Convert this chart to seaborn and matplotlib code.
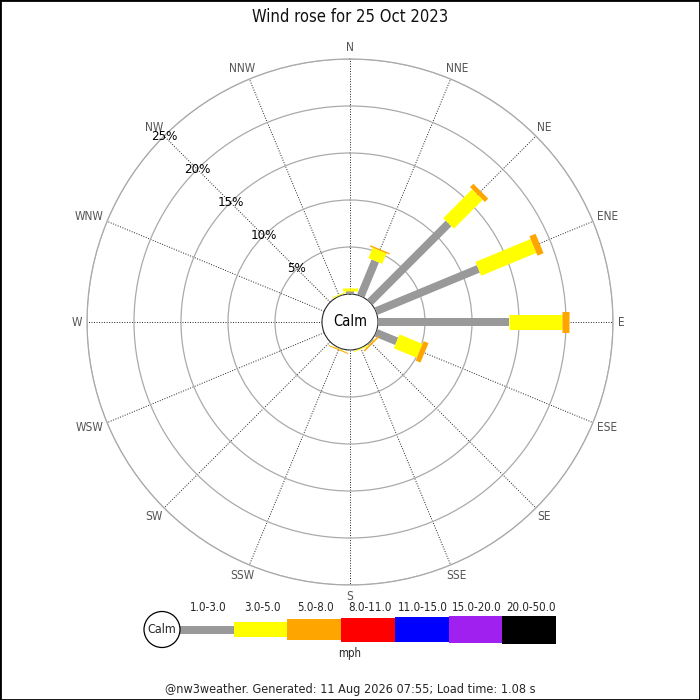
import numpy as np
import matplotlib.pyplot as plt
import seaborn as sns
from matplotlib.patches import Circle, Rectangle

# compass points, clockwise from north
directions = ['N', 'NNE', 'NE', 'ENE', 'E', 'ESE', 'SE', 'SSE',
              'S', 'SSW', 'SW', 'WSW', 'W', 'WNW', 'NW', 'NNW']
speed_bins = ['1.0-3.0', '3.0-5.0', '5.0-8.0', '8.0-11.0',
              '11.0-15.0', '15.0-20.0', '20.0-50.0']

pct_1_3 = [0.35, 4.05, 11.85, 11.8, 13.95, 2.4, 0.15, 0.05,
           0.1, 0.1, 0.0, 0.0, 0.0, 0.0, 0.0, 0.05]
pct_3_5 = [0.3, 1.2, 4.35, 6.35, 5.65, 2.65, 0.05, 0.1,
           0.0, 0.05, 0.0, 0.0, 0.0, 0.0, 0.0, 0.1]
pct_5_8 = [0.0, 0.15, 0.5, 0.7, 0.75, 0.55, 0.15, 0.0,
           0.0, 0.1, 0.0, 0.0, 0.0, 0.0, 0.0, 0.0]
pct_8_11 = [0.0, 0.0, 0.0, 0.0, 0.0, 0.0, 0.0, 0.0,
            0.0, 0.0, 0.0, 0.0, 0.0, 0.0, 0.0, 0.0]
pct_11_15 = [0.0, 0.0, 0.0, 0.0, 0.0, 0.0, 0.0, 0.0,
             0.0, 0.0, 0.0, 0.0, 0.0, 0.0, 0.0, 0.0]
pct_15_20 = [0.0, 0.0, 0.0, 0.0, 0.0, 0.0, 0.0, 0.0,
             0.0, 0.0, 0.0, 0.0, 0.0, 0.0, 0.0, 0.0]
pct_20_50 = [0.0, 0.0, 0.0, 0.0, 0.0, 0.0, 0.0, 0.0,
             0.0, 0.0, 0.0, 0.0, 0.0, 0.0, 0.0, 0.0]
ring_ticks = [5, 10, 15, 20, 25]

bands = [pct_1_3, pct_3_5, pct_5_8, pct_8_11, pct_11_15, pct_15_20, pct_20_50]
colours = ['#999999', '#ffff00', '#ffa500', '#ff0000', '#0000ff', '#a020f0', '#000000']
band_px = [8, 15, 21, 24, 25, 27, 28]   # bar thickness in pixels

sns.set_style('white')
plt.rcParams['font.family'] = ['DejaVu Sans']
plt.rcParams['font.stretch'] = 'condensed'

DPI = 100
px_per_pct = 9.4
r0_px = 28
R_px = r0_px + 25 * px_per_pct
cx, cy = 350, 322

fig = plt.figure(figsize=(7, 7), dpi=DPI)
ax = fig.add_axes([(cx - R_px) / 700, (700 - cy - R_px) / 700,
                   2 * R_px / 700, 2 * R_px / 700], projection='polar')
ax.set_theta_zero_location('N')
ax.set_theta_direction(-1)
ax.set_ylim(0, 25)
ax.set_rorigin(-r0_px / px_per_pct)

theta = np.deg2rad(np.arange(len(directions)) * 22.5)

ax.set_xticks(theta)
ax.set_xticklabels([])
ax.set_yticks(ring_ticks)
ax.set_yticklabels([])
ax.xaxis.grid(True, color='#222222', linestyle=(0, (1, 1.6)), linewidth=0.7)
ax.yaxis.grid(True, color='#aaaaaa', linestyle='-', linewidth=0.9)
ax.spines['polar'].set_color('#aaaaaa')
ax.spines['polar'].set_linewidth(0.9)
ax.tick_params(length=0)

# stacked bars, drawn as thick radial strokes of constant width
for i, th in enumerate(theta):
    start = 0.0
    for k, band in enumerate(bands):
        v = band[i]
        if v <= 0:
            continue
        ax.plot([th, th], [start, start + v], color=colours[k],
                lw=band_px[k] * 72 / DPI, solid_capstyle='butt', zorder=3)
        start += v

calm = Circle((0.5, 0.5), 26 / (2 * R_px), transform=ax.transAxes,
              facecolor='white', edgecolor='#bbbbbb', lw=0.9, zorder=2.5)
ax.add_patch(calm)
ax.text(0.5, 0.5, 'Calm', transform=ax.transAxes, ha='center', va='center',
        fontsize=10.5, color='black', zorder=5)

# compass labels: nearest edge of each label sits just outside the rim
lab_r = (268 - r0_px) / px_per_pct
compass = []
for th, name in zip(theta, directions):
    t = ax.annotate(name, xy=(th, lab_r), xytext=(0, 0), textcoords='offset pixels',
                    ha='center', va='center', fontsize=8.5, color='#555555',
                    annotation_clip=False)
    compass.append((th, t))

for t in ring_ticks:
    ax.text(np.deg2rad(315), t, f'{t}%', ha='center', va='center',
            fontsize=9.5, color='black', zorder=4)

fig.text(0.5, 1 - 17 / 700, 'Wind rose for 25 Oct 2023', ha='center', va='center',
         fontsize=11.9, color='#111111')

# legend strip, in pixel units
lg = fig.add_axes([130 / 700, (700 - 665) / 700, 440 / 700, 70 / 700])
lg.set_xlim(130, 570)
lg.set_ylim(665, 595)
lg.axis('off')
seg_w = 53.7
lefts = [180 + k * seg_w for k in range(len(speed_bins))]
bottoms = [629.5 - h / 2 for h in band_px]
lg.bar(lefts, band_px, width=seg_w, bottom=bottoms, align='edge',
       color=colours, linewidth=0)
lg.add_patch(Circle((162, 629.5), 18, facecolor='white', edgecolor='black', lw=0.9))
lg.text(162, 629.5, 'Calm', ha='center', va='center', fontsize=9)
for x, lab in zip(lefts, speed_bins):
    lg.text(x + seg_w / 2 + 1.5, 607.5, lab, ha='center', va='center', fontsize=8.3)
lg.text(350, 654, 'mph', ha='center', va='center', fontsize=8.3)

fig.text(0.5, 10 / 700, '@nw3weather. Generated: 11 Aug 2026 07:55; Load time: 1.08 s',
         ha='center', va='center', fontsize=9.1)

fig.patches.append(Rectangle((0, 0), 1, 1, transform=fig.transFigure,
                             fill=False, edgecolor='black', lw=2))

# shift each compass label outward by half its own size
fig.canvas.draw()
renderer = fig.canvas.get_renderer()
for th, t in compass:
    bb = t.get_window_extent(renderer)
    t.xyann = (bb.width / 2 * np.sin(th), bb.height / 2 * np.cos(th))

fig.savefig('out.png', dpi=DPI)
